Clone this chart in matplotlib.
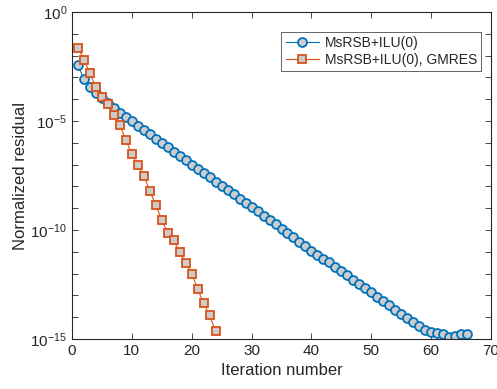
import matplotlib
matplotlib.use("Agg")
import matplotlib.pyplot as plt
import numpy as np

# log10 of the normalized residual
ILU_ITERS = list(range(1, 67))
ILU_LOG_RES = [
    -2.45, -3.09, -3.44, -3.70, -3.96, -4.19, -4.40, -4.62, -4.82, -5.02,
    -5.22, -5.41, -5.61, -5.81, -6.01, -6.21, -6.43, -6.62, -6.81, -7.00,
    -7.20, -7.40, -7.59, -7.80, -7.98, -8.18, -8.37, -8.58, -8.76, -8.96,
    -9.15, -9.36, -9.54, -9.74, -9.94, -10.14, -10.34, -10.54, -10.72, -10.94,
    -11.14, -11.32, -11.49, -11.70, -11.90, -12.08, -12.28, -12.49, -12.68, -12.86,
    -13.06, -13.26, -13.46, -13.69, -13.85, -14.02, -14.22, -14.40, -14.57, -14.67,
    -14.73, -14.79, -14.92, -14.86, -14.76, -14.79,
]

GMRES_ITERS = list(range(1, 25))
GMRES_LOG_RES = [
    -1.65, -2.19, -2.82, -3.46, -3.89, -4.22, -4.74, -5.18, -5.88, -6.52,
    -7.04, -7.51, -8.20, -8.87, -9.53, -10.14, -10.48, -11.03, -11.51, -12.00,
    -12.71, -13.37, -13.92, -14.65,
]

LABELS = ["MsRSB+ILU(0)", "MsRSB+ILU(0), GMRES"]
X_TICKS = list(range(0, 71, 10))
Y_DECADES = list(range(-15, 1))

TXT = (0.15, 0.15, 0.15)
BLUE = (0.0, 0.447, 0.741)
ORANGE = (0.85, 0.325, 0.098)
FACE = (0.8, 0.8, 0.8)

plt.rcParams["font.family"] = ["Liberation Sans", "DejaVu Sans"]
plt.rcParams["mathtext.default"] = "regular"

fig = plt.figure(figsize=(4.97, 3.89), dpi=100)
ax = fig.add_axes([0.1449, 0.1285, 0.843, 0.8406])

ax.semilogy(ILU_ITERS, 10.0 ** np.array(ILU_LOG_RES), color=BLUE, lw=0.8,
            marker="o", ms=6.4, mfc=FACE, mec=BLUE, mew=1.3, label=LABELS[0])
ax.semilogy(GMRES_ITERS, 10.0 ** np.array(GMRES_LOG_RES), color=ORANGE, lw=0.8,
            marker="s", ms=5.4, mfc=FACE, mec=ORANGE, mew=1.3, label=LABELS[1])

ax.set_xlim(0, 70)
ax.set_ylim(1e-15, 1e0)
ax.set_xticks(X_TICKS)
ax.set_xticklabels([str(t) for t in X_TICKS])
ax.set_yticks([10.0 ** d for d in Y_DECADES])
ax.set_yticklabels([f"$10^{{{d}}}$" if d % 5 == 0 else "" for d in Y_DECADES])
ax.minorticks_off()

ax.tick_params(direction="in", top=True, right=True, length=4, width=0.6,
               colors=TXT, labelsize=11)
for s in ax.spines.values():
    s.set_color(TXT)
    s.set_linewidth(0.8)

ax.set_xlabel("Iteration number", fontsize=12, color=TXT, labelpad=4)
ax.set_ylabel("Normalized residual", fontsize=12, color=TXT, labelpad=2)

leg = ax.legend(loc="upper right", bbox_to_anchor=(0.976, 0.939), fontsize=10,
                fancybox=False, framealpha=1, borderpad=0.3, handlelength=2.4,
                labelspacing=0.2, handletextpad=0.4, borderaxespad=0.0)
leg.get_frame().set_edgecolor((0.15, 0.15, 0.15))
leg.get_frame().set_linewidth(0.5)
for t in leg.get_texts():
    t.set_color(TXT)

fig.savefig("out.png", dpi=100)
